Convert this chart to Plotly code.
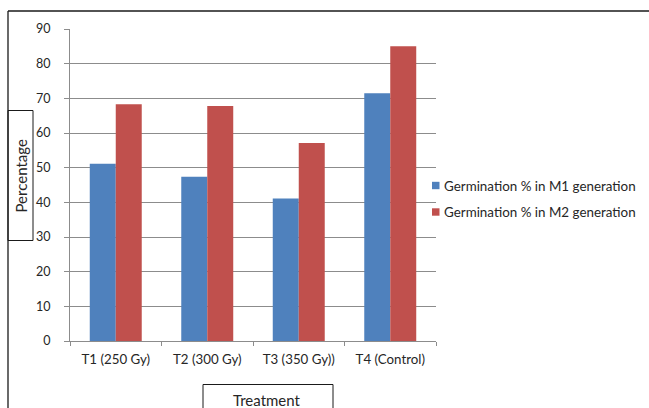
import plotly.graph_objects as go

# Germination percentages per treatment
treatments = ["T1 (250 Gy)", "T2 (300 Gy)", "T3 (350 Gy))", "T4 (Control)"]
m1_germination = [51.1, 47.4, 41.1, 71.5]
m2_germination = [68.3, 67.8, 57.1, 85.0]
series_names = ["Germination % in M1 generation", "Germination % in M2 generation"]
y_ticks = [0, 10, 20, 30, 40, 50, 60, 70, 80, 90]

BLUE = "#4F81BD"
RED = "#C0504D"
GRID = "#8C8C8C"
TEXT = "#262626"
FONT = "Lato"

W, H = 649, 408
L, R, T, B = 70, 213, 29, 67
PW, PH = W - L - R, H - T - B


def px(x):
    return (x - L) / PW


def py(y):
    return (H - B - y) / PH


fig = go.Figure()
fig.add_trace(go.Bar(x=treatments, y=m1_germination, name=series_names[0],
                     marker=dict(color=BLUE, line=dict(width=0)), showlegend=False))
fig.add_trace(go.Bar(x=treatments, y=m2_germination, name=series_names[1],
                     marker=dict(color=RED, line=dict(width=0)), showlegend=False))

shapes = []
annotations = []

# legend drawn as small swatches with labels
for i, (name, color) in enumerate(zip(series_names, [BLUE, RED])):
    yc = 185.5 + i * 26.5
    shapes.append(dict(type="rect", xref="paper", yref="paper",
                       x0=px(432), x1=px(439.5), y0=py(yc - 3.7), y1=py(yc + 3.7),
                       fillcolor=color, line=dict(width=0), layer="above"))
    annotations.append(dict(text=name, xref="paper", yref="paper",
                            x=px(441.5), y=py(yc), xanchor="left", yanchor="middle",
                            showarrow=False, font=dict(family=FONT, size=13.4, color=TEXT)))

# outer chart border (left and top edges)
shapes.append(dict(type="line", xref="paper", yref="paper",
                   x0=px(8), x1=px(8), y0=py(11), y1=py(410),
                   line=dict(color="#1a1a1a", width=1.3)))
shapes.append(dict(type="line", xref="paper", yref="paper",
                   x0=px(8), x1=px(652), y0=py(11), y1=py(11),
                   line=dict(color="#1a1a1a", width=1.3)))

# boxed axis titles
shapes.append(dict(type="rect", xref="paper", yref="paper", layer="below",
                   x0=px(8), x1=px(33), y0=py(110.5), y1=py(240.5),
                   line=dict(color="#1a1a1a", width=1)))
shapes.append(dict(type="rect", xref="paper", yref="paper", layer="below",
                   x0=px(203), x1=px(333), y0=py(384.5), y1=py(415),
                   line=dict(color="#1a1a1a", width=1)))
annotations.append(dict(text="Percentage", xref="paper", yref="paper",
                        x=px(20), y=py(175.5), textangle=-90,
                        xanchor="center", yanchor="middle", showarrow=False,
                        font=dict(family=FONT, size=15, color=TEXT)))
annotations.append(dict(text="Treatment", xref="paper", yref="paper",
                        x=px(267), y=py(400), xanchor="center", yanchor="middle",
                        showarrow=False, font=dict(family=FONT, size=15, color=TEXT)))

fig.update_layout(
    width=W, height=H,
    margin=dict(l=L, r=R, t=T, b=B, pad=0),
    paper_bgcolor="white", plot_bgcolor="white",
    barmode="group", bargap=0.432, bargroupgap=0,
    showlegend=False,
    shapes=shapes, annotations=annotations,
    font=dict(family=FONT, size=13, color=TEXT),
)
fig.update_xaxes(
    showline=True, linecolor=GRID, linewidth=1,
    ticks="outside", tickson="boundaries", ticklen=4, tickcolor=GRID,
    ticklabelstandoff=6, showgrid=False,
    tickfont=dict(family=FONT, size=13.3, color=TEXT),
)
fig.update_yaxes(
    range=[0, 90], tickvals=y_ticks,
    showline=True, linecolor=GRID, linewidth=1,
    ticks="outside", ticklen=5, tickcolor=GRID,
    showgrid=True, gridcolor=GRID, gridwidth=1, zeroline=False,
    ticklabelstandoff=11,
    tickfont=dict(family=FONT, size=12.5, color=TEXT),
)

fig.write_html("out.html")
